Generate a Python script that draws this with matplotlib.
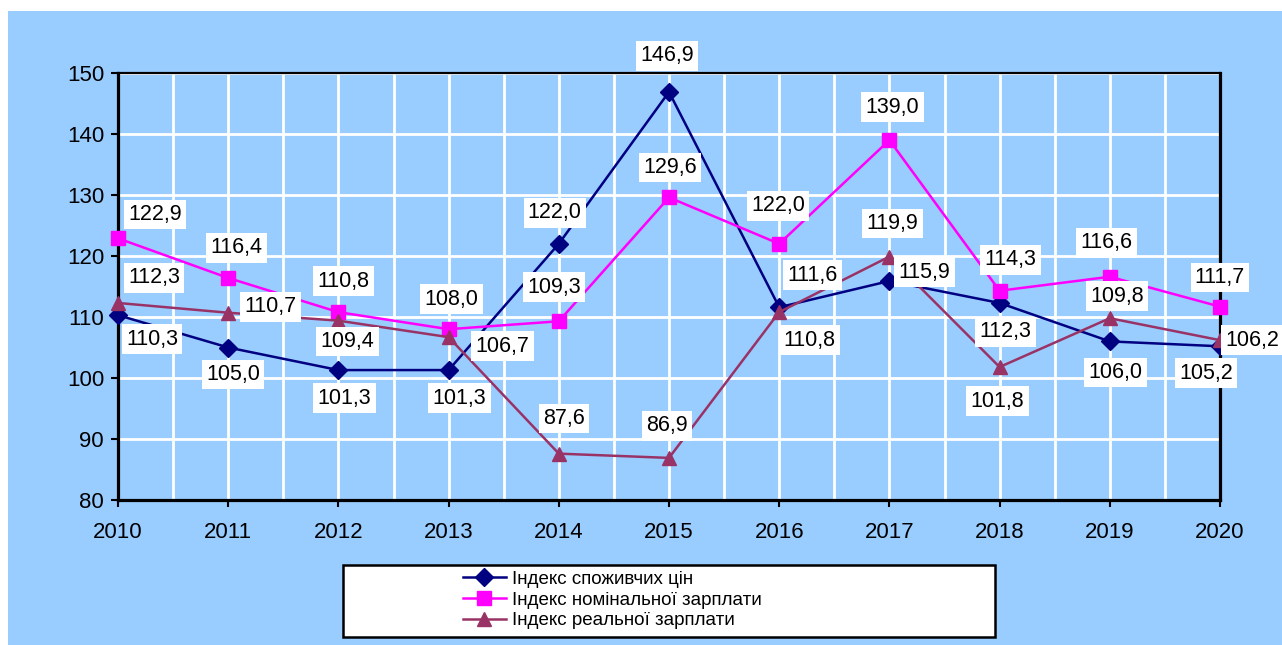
"""Індекси цін і зарплати, 2010-2020
"""
import matplotlib
matplotlib.use("Agg")
import matplotlib.pyplot as plt
from matplotlib.patches import Rectangle
from matplotlib.lines import Line2D
from matplotlib.ticker import MultipleLocator

plt.rcParams["font.family"] = ["Liberation Sans", "DejaVu Sans"]

years = list(range(2010, 2021))
cpi = [110.3, 105.0, 101.3, 101.3, 122.0, 146.9, 111.6, 115.9, 112.3, 106.0, 105.2]
nominal = [122.9, 116.4, 110.8, 108.0, 109.3, 129.6, 122.0, 139.0, 114.3, 116.6, 111.7]
real = [112.3, 110.7, 109.4, 106.7, 87.6, 86.9, 110.8, 119.9, 101.8, 109.8, 106.2]
names = ["Індекс споживчих цін", "Індекс номінальної зарплати", "Індекс реальної зарплати"]

# зсуви підписів у пікселях (dx, dy)
off_cpi = [(34, -24), (5, -27), (6, -28), (11, -28), (-4, 31), (-2, 36),
           (33, 32), (35, 9), (6, -29), (6, -31), (-14, -27)]
off_nom = [(37, 24), (8, 30), (5, 31), (3, 30), (-5, 34), (1, 30),
           (-1, 38), (3, 33), (11, 31), (-3, 34), (0, 29)]
off_real = [(36, 25), (42, 6), (9, -21), (54, -9), (5, 35), (-2, 32),
            (30, -28), (3, 33), (-2, -34), (7, 22), (32, 0)]

bg = "#99CCFF"
W, H = 1282, 645
fig = plt.figure(figsize=(W / 100, H / 100), dpi=100, facecolor="white")
fig.patches.append(Rectangle((8 / W, 0), 1 - 8 / W, 1 - 11 / H, transform=fig.transFigure,
                             facecolor=bg, edgecolor="none", zorder=-1))

ax = fig.add_axes([118 / W, 1 - 500 / H, (1220 - 118) / W, (500 - 73) / H])
ax.set_facecolor(bg)

styles = [
    (cpi, "#000080", "D", 9, off_cpi),
    (nominal, "#FF00FF", "s", 9.5, off_nom),
    (real, "#993366", "^", 10.5, off_real),
]
for i, (vals, col, mk, ms, offs) in enumerate(styles):
    ax.plot(years, vals, color=col, lw=1.8, marker=mk, ms=ms, zorder=3 + i, clip_on=False)

for vals, col, mk, ms, offs in styles:
    for x, v, (dx, dy) in zip(years, vals, offs):
        ax.annotate(f"{v:.1f}".replace(".", ","), (x, v), xytext=(dx, dy),
                    textcoords="offset pixels", ha="center", va="center",
                    fontsize=15.5, zorder=10, annotation_clip=False,
                    bbox=dict(boxstyle="square,pad=0.2", fc="white", ec="none"))

ax.set_xlim(2010, 2020)
ax.set_ylim(80, 150)
ax.xaxis.set_major_locator(MultipleLocator(1))
ax.xaxis.set_minor_locator(MultipleLocator(0.5))
ax.yaxis.set_major_locator(MultipleLocator(10))
ax.grid(True, which="both", axis="x", color="white", lw=2, zorder=1)
ax.grid(True, which="major", axis="y", color="white", lw=2, zorder=1)
ax.set_axisbelow(True)
ax.tick_params(axis="both", which="major", labelsize=16, length=5, width=1.5,
               direction="out", color="black")
ax.tick_params(axis="x", which="major", pad=11)
ax.tick_params(axis="y", which="major", pad=5)
ax.tick_params(axis="both", which="minor", length=0)
for side in ["left", "bottom", "right"]:
    ax.spines[side].set_linewidth(2.3)
ax.spines["top"].set_linewidth(1.6)

# легенда
fig.patches.append(Rectangle((343 / W, 1 - 637 / H), (995 - 343) / W, (637 - 565) / H,
                             transform=fig.transFigure, facecolor="white",
                             edgecolor="black", lw=1.8, zorder=5))
handles = [Line2D([], [], color=c, lw=1.8, marker=m, ms=s) for _, c, m, s, _ in styles]
leg = fig.legend(handles, names, loc="center", bbox_to_anchor=(612 / W, 1 - 600 / H),
                 frameon=False, fontsize=13.5, labelspacing=0.2, handlelength=2.3,
                 handletextpad=0.3, borderpad=0)
leg.set_zorder(6)

fig.savefig("out.png", dpi=100, facecolor=fig.get_facecolor())
